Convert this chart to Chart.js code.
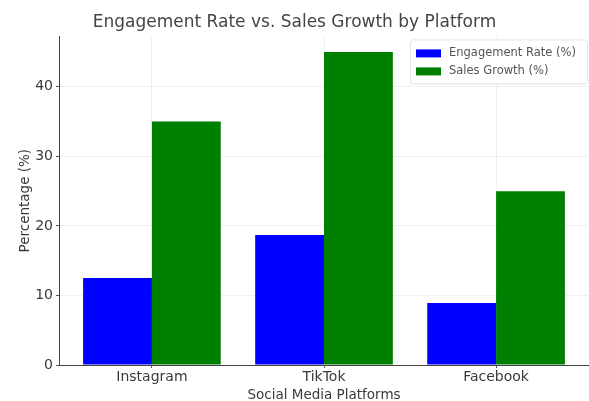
<!DOCTYPE html>
<html>
<head>
<meta charset="utf-8">
<script src="https://cdn.jsdelivr.net/npm/chart.js@4.4.0/dist/chart.umd.min.js"></script>
<style>
  html, body { margin: 0; padding: 0; background: #fff; }
  #wrap { width: 589px; height: 401px; }
</style>
</head>
<body>
<div id="wrap"><canvas id="barChart"></canvas></div>
<script>
// chart data
const platforms = ['Instagram', 'TikTok', 'Facebook'];
const engagementRate = [12.5, 18.7, 8.9];
const salesGrowth = [35, 45, 25];
const yTicks = [0, 10, 20, 30, 40];

const FONT = 'DejaVu Sans';
const TEXT = '#3a3a3a';

// matplotlib-style legend in the top right corner of the plot
const boxLegend = {
    id: 'boxLegend',
    afterDraw(chart) {
        const c = chart.ctx;
        const area = chart.chartArea;
        const w = 177, h = 44;
        const x = area.right - w - 2, y = area.top + 3;
        c.save();
        c.fillStyle = 'rgba(255,255,255,0.9)';
        c.strokeStyle = '#e4e4e4';
        c.lineWidth = 1;
        c.beginPath();
        c.roundRect(x + 0.5, y + 0.5, w, h, 3);
        c.fill();
        c.stroke();
        c.font = '11.5px ' + FONT;
        c.textBaseline = 'middle';
        chart.data.datasets.forEach((ds, i) => {
            const ry = y + 14 + i * 18;
            c.fillStyle = ds.backgroundColor;
            c.fillRect(x + 6, ry - 4, 25, 8);
            c.fillStyle = '#555';
            c.fillText(ds.label, x + 39, ry);
        });
        c.restore();
    }
};

function renderChart() {
    const ctx = document.getElementById('barChart').getContext('2d');

    const data = {
        datasets: [{
            label: 'Engagement Rate (%)',
            data: engagementRate.map((v, i) => ({ x: i, y: v })),
            backgroundColor: '#0000ff'
        }, {
            label: 'Sales Growth (%)',
            data: salesGrowth.map((v, i) => ({ x: i, y: v })),
            backgroundColor: '#008000'
        }]
    };

    const config = {
        type: 'bar',
        data: data,
        plugins: [boxLegend],
        options: {
            responsive: true,
            maintainAspectRatio: false,
            animation: false,
            layout: { padding: { left: 0, right: 0, top: 0, bottom: -1 } },
            datasets: { bar: { categoryPercentage: 0.8, barPercentage: 1.0 } },
            plugins: {
                title: {
                    display: true,
                    text: 'Engagement Rate vs. Sales Growth by Platform',
                    color: '#444',
                    font: { family: FONT, size: 17, weight: 'normal' },
                    padding: { top: 12, bottom: 4 }
                },
                legend: { display: false },
                tooltip: { enabled: false }
            },
            scales: {
                x: {
                    type: 'linear',
                    min: -0.54,
                    max: 2.54,
                    offset: false,
                    z: 1,
                    afterBuildTicks: axis => {
                        axis.ticks = platforms.map((p, i) => ({ value: i }));
                    },
                    ticks: {
                        callback: v => platforms[v],
                        color: TEXT,
                        font: { family: FONT, size: 14, lineHeight: 1.0 },
                        padding: 2
                    },
                    grid: { offset: false, color: 'rgba(0,0,0,0.06)', tickLength: 3, tickColor: '#555' },
                    border: { color: '#444', width: 1 },
                    title: {
                        display: true,
                        text: 'Social Media Platforms',
                        color: TEXT,
                        font: { family: FONT, size: 13.5, lineHeight: 1.0 },
                        padding: { top: 2.5, bottom: 0 }
                    }
                },
                y: {
                    min: 0,
                    max: 47.25,
                    z: 1,
                    afterBuildTicks: axis => {
                        axis.ticks = yTicks.map(v => ({ value: v }));
                    },
                    ticks: {
                        color: TEXT,
                        font: { family: FONT, size: 14 },
                        padding: 3
                    },
                    grid: { color: 'rgba(0,0,0,0.06)', tickLength: 3, tickColor: '#555' },
                    border: { color: '#444', width: 1 },
                    title: {
                        display: true,
                        text: 'Percentage (%)',
                        color: TEXT,
                        font: { family: FONT, size: 13.5 },
                        padding: { top: 17, bottom: -1 }
                    }
                }
            }
        }
    };

    new Chart(ctx, config);
}

renderChart();
</script>
</body>
</html>
